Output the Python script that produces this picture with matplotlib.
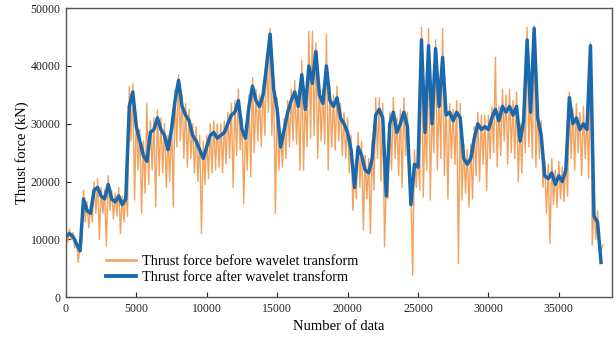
import matplotlib
matplotlib.use('Agg')
import matplotlib.pyplot as plt
import numpy as np

plt.rcParams['font.family'] = ['Liberation Serif', 'DejaVu Serif']

# sample index of every reading (step 250), orange dips sit halfway between
idx = np.arange(0, 38001, 250)

# blue: thrust force after wavelet transform (kN)
after = [10500, 11000, 10500, 9200, 8000, 17000, 15000, 14500, 18500, 19000,
         17500, 17000, 19500, 17000, 16500, 17500, 16000, 17000, 33000, 35500,
         29500, 27000, 24500, 23500, 28500, 29000, 31000, 29000, 28000, 25500,
         29000, 34000, 37500, 33000, 31500, 30500, 28000, 27000, 25500, 24000,
         26000, 28000, 28500, 27500, 28000, 28500, 30000, 31500, 32000, 34000,
         29000, 27500, 33000, 36500, 34000, 33000, 35000, 40000, 45500, 36000,
         32500, 26000, 29000, 32000, 34000, 35500, 33000, 38500, 32500, 40000,
         37000, 42500, 35000, 33500, 40000, 34000, 33000, 34500, 31000, 30000,
         28500, 25500, 19000, 26000, 24500, 22000, 21500, 24000, 31500, 32500,
         31000, 17500, 30000, 32000, 28500, 30000, 32000, 29500, 16000, 23000,
         22500, 44500, 28500, 43500, 30000, 43000, 33000, 41500, 31500, 32000,
         30500, 32000, 31000, 24000, 23000, 24000, 27500, 30000, 29000, 29500,
         29000, 31000, 32500, 30500, 33000, 32000, 33000, 31500, 33000, 27000,
         30500, 44500, 32000, 46500, 31000, 28000, 21000, 20500, 21500, 19500,
         21000, 20000, 22000, 34500, 30000, 31000, 29000, 30000, 29000, 43500,
         14000, 13000, 6000]

# orange: thrust force before wavelet transform, peaks and dips (kN)
before_hi = [11500, 11800, 11200, 10000, 9000, 18500, 16500, 16000, 20000, 20500,
             19000, 18500, 21000, 18500, 18000, 19000, 17500, 18500, 36500, 37000,
             32000, 29000, 27000, 33500, 30500, 31000, 32500, 31000, 30000, 28000,
             31000, 36000, 38500, 35000, 33500, 32500, 30000, 29500, 28000, 27000,
             28000, 30000, 30500, 30000, 30000, 30500, 32000, 33500, 34000, 36000,
             31000, 30000, 35000, 38000, 36000, 35000, 37000, 42000, 46500, 38000,
             34500, 28500, 31000, 34000, 36000, 37500, 35000, 41000, 35000, 46000,
             46000, 44000, 37000, 36000, 45500, 36500, 35000, 36500, 33500, 32000,
             31000, 28000, 22000, 28500, 27000, 24500, 24000, 27000, 34500, 34500,
             33500, 20000, 32000, 34500, 31000, 32500, 34500, 32000, 19000, 25500,
             25000, 46700, 31000, 46500, 32500, 44500, 35500, 46500, 34000, 33500,
             32500, 34000, 33500, 26500, 25500, 26500, 29500, 32000, 31500, 31500,
             31500, 33000, 41500, 33000, 36000, 35000, 36000, 34000, 35500, 30000,
             33000, 46700, 34500, 47000, 33500, 30500, 23500, 23000, 24000, 22000,
             23500, 22500, 24500, 35500, 32500, 33500, 32000, 33000, 31500, 44000,
             16000, 15000, 8000]
before_lo = [9500, 10000, 8500, 6000, 9000, 13000, 12000, 13000, 14500, 10000,
             14500, 8800, 15000, 13500, 14000, 11000, 13000, 14000, 27000, 16800,
             22000, 14500, 18000, 19500, 22000, 15600, 21000, 21500, 19000, 20000,
             15600, 26000, 27000, 24000, 22500, 24000, 21500, 20000, 11000, 19500,
             20500, 21500, 22000, 22500, 21500, 23000, 24000, 19000, 24500, 25500,
             16200, 22000, 20800, 25000, 27000, 26000, 28000, 32000, 28000, 14500,
             22000, 22500, 24000, 26000, 27000, 26500, 22000, 22000, 26000, 27500,
             28000, 24000, 27000, 26500, 22000, 26000, 25500, 27000, 24500, 24000,
             21500, 15000, 17000, 19000, 11600, 17000, 11000, 18500, 24000, 20000,
             8700, 17000, 22000, 24000, 21000, 19000, 24500, 22000, 3800, 19000,
             18500, 17300, 22000, 16800, 25000, 22000, 24000, 21000, 17000, 24000,
             23000, 5800, 16800, 18000, 15600, 17000, 21000, 20000, 23000, 18500,
             24000, 25000, 22500, 24500, 27000, 23000, 25000, 24000, 20000, 21500,
             25000, 26000, 24000, 22500, 24000, 19000, 14500, 9300, 16000, 15500,
             17000, 16500, 17500, 24000, 22000, 25000, 21000, 24000, 20500, 9000,
             10000, 9000, 9000]

x_before = np.ravel(np.column_stack([idx, idx + 125]))
y_before = np.ravel(np.column_stack([before_hi, before_lo]))

C_ORANGE = '#F2A25C'
C_BLUE = '#1A69AE'

fig = plt.figure(figsize=(6.16, 3.40), dpi=100)
ax = fig.add_axes([0.107, 0.126, 0.887, 0.850])

ax.plot(x_before, y_before, color=C_ORANGE, linewidth=1.0,
        label='Thrust force before wavelet transform')
ax.plot(idx, after, color=C_BLUE, linewidth=2.5,
        label='Thrust force after wavelet transform')

ax.set_xlim(0, 38800)
ax.set_ylim(0, 50000)
ax.set_xticks(np.arange(0, 35001, 5000))
ax.set_yticks(np.arange(0, 50001, 10000))
ax.tick_params(direction='in', length=3.5, labelsize=8.5, colors='#222222', pad=4)

for s in ax.spines.values():
    s.set_color('#555555')
    s.set_linewidth(1.0)

ax.set_xlabel('Number of data', fontsize=10.5, labelpad=4)
ax.set_ylabel('Thrust force (kN)', fontsize=10.5, labelpad=1)

leg = ax.legend(loc='lower left', bbox_to_anchor=(0.06, 0.02), frameon=False,
                fontsize=10.3, handlelength=2.1, labelspacing=0.25, borderpad=0,
                handletextpad=0.4)
leg.get_lines()[0].set_linewidth(1.8)
leg.get_lines()[1].set_linewidth(2.8)

fig.savefig('out.png', dpi=100)
